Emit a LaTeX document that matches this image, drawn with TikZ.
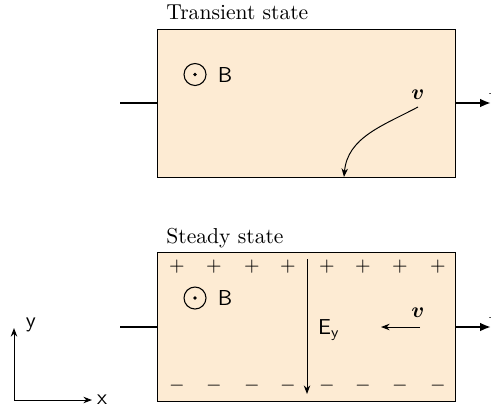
\documentclass[tikz,border=0pt]{standalone}
\usepackage{amsmath}
\usetikzlibrary{arrows.meta}
\definecolor{peach}{RGB}{253,235,211}
\begin{document}
\begin{tikzpicture}[x=0.463pt,y=-0.463pt,
  slab/.style={draw=black,fill=peach,line width=0.5pt},
  wire/.style={line width=1.1pt},
  wirearrow/.style={line width=1.1pt,-{Latex[length=5pt,width=4pt]}},
  thinarrow/.style={line width=0.45pt,-{Stealth[length=4pt,width=3pt]}},
  lbl/.style={inner sep=0pt},
  sign/.style={inner sep=0pt,font=\small}]
\useasboundingbox (0,0) rectangle (491,410);

% ---------- transient state ----------
\node[lbl,anchor=base west] (t1) at (166,20) {Transient state};
\node[slab,minimum width=298*0.463pt,minimum height=148.5*0.463pt,anchor=north west,inner sep=0pt] (box1) at (157,28.7) {};
\coordinate (inL1) at (120,103);
\coordinate (bL1) at (157,103);
\coordinate (bR1) at (455,103);
\coordinate (out1) at (491,103);
\draw[wire] (inL1) -- (bL1);
\draw[wirearrow] (bR1) -- (out1);
\node[lbl,anchor=base west] (I1) at (488,94) {$I$};
\node[draw,circle,minimum size=22*0.463pt,inner sep=0pt,line width=0.5pt] (c1) at (195,74.5) {};
\fill (c1.center) circle (0.9pt);
\node[lbl] (B1) at (225,74.5) {$\mathsf{B}$};
\node[lbl] (v1) at (418,95) {$\boldsymbol{v}$};
\coordinate (v1s) at (418,107);
\coordinate (v1e) at (344,177);
\draw[thinarrow] (v1s) to[out=-152,in=85] (v1e);

% ---------- steady state ----------
\node[lbl,anchor=base west] (t2) at (166,243) {Steady state};
\node[slab,minimum width=298*0.463pt,minimum height=149*0.463pt,anchor=north west,inner sep=0pt] (box2) at (157,252) {};
\coordinate (inL2) at (120,327);
\coordinate (bL2) at (157,327);
\coordinate (bR2) at (455,327);
\coordinate (out2) at (491,327);
\draw[wire] (inL2) -- (bL2);
\draw[wirearrow] (bR2) -- (out2);
\node[lbl,anchor=base west] (I2) at (488,318) {$I$};
\foreach \i/\xx in {1/177,2/214,3/252,4/288,5/327,6/363,7/400,8/438}{
  \node[sign] (p\i) at (\xx,267) {$+$};
  \node[sign] (m\i) at (\xx,386) {$-$};
}
\node[draw,circle,minimum size=22*0.463pt,inner sep=0pt,line width=0.5pt] (c2) at (195,298) {};
\fill (c2.center) circle (0.9pt);
\node[lbl] (B2) at (225,298) {$\mathsf{B}$};
\coordinate (Es) at (307,259);
\coordinate (Ee) at (307,394);
\draw[thinarrow] (Es) -- (Ee);
\node[lbl] (Ey) at (329,330) {$\mathsf{E_y}$};
\node[lbl] (v2) at (418,313) {$\boldsymbol{v}$};
\coordinate (v2s) at (420,327);
\coordinate (v2e) at (381,327);
\draw[thinarrow] (v2s) -- (v2e);

% ---------- axes ----------
\coordinate (O) at (14,400);
\coordinate (Ax) at (92,400);
\coordinate (Ay) at (14,328);
\draw[thinarrow] (O) -- (Ax);
\draw[thinarrow] (O) -- (Ay);
\node[lbl] (xl) at (102,400) {$\mathsf{x}$};
\node[lbl] (yl) at (31,325) {$\mathsf{y}$};
\end{tikzpicture}
\end{document}
